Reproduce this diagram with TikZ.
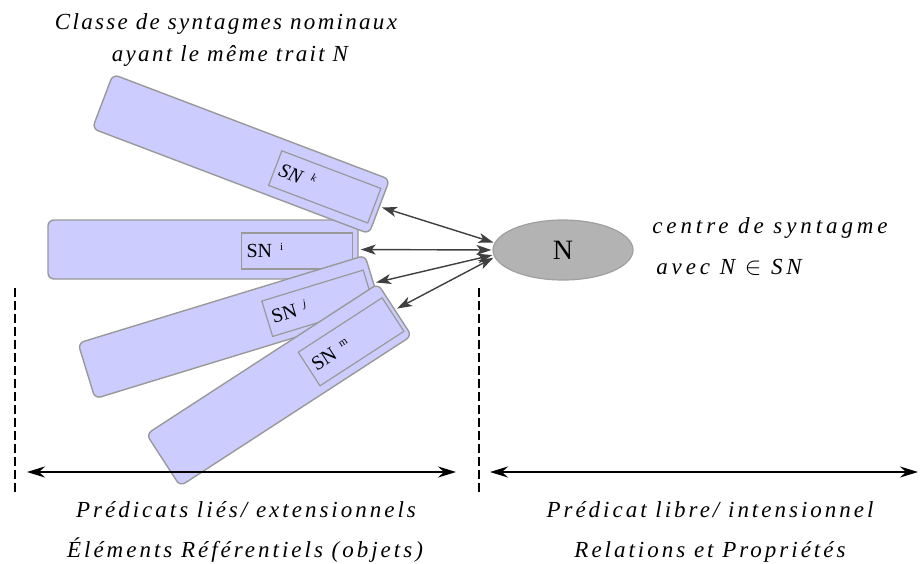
\documentclass[tikz,border=0pt]{standalone}
\usepackage{fontspec}
\setmainfont{Liberation Serif}
\usetikzlibrary{arrows.meta,shapes.geometric}
\definecolor{boxfill}{HTML}{CCCCFF}
\definecolor{boxline}{HTML}{999999}
\definecolor{ellfill}{HTML}{B3B3B3}
\definecolor{ellline}{HTML}{A0A0A0}
\definecolor{arrcol}{HTML}{3F3F3F}
\newfontfamily\spacedtop[LetterSpace=10]{Liberation Serif}
\newfontfamily\spacedbot[LetterSpace=13]{Liberation Serif}
\newfontfamily\spacedright[LetterSpace=17]{Liberation Serif}
\tikzset{
  outerbox/.style={draw=boxline, fill=boxfill, line width=1.4pt, rounded corners=6pt,
    minimum height=59pt, inner sep=0pt, transform shape},
  innerbox/.style={draw=boxline, line width=1.2pt, minimum width=106pt, minimum height=37pt,
    inner xsep=5pt, inner ysep=0pt, text width=96pt, align=left, text height=13pt, text depth=0pt,
    font=\fontsize{20}{20}\selectfont, transform shape},
  link/.style={draw=arrcol, line width=1.4pt, >={Stealth[length=15pt,width=10pt,inset=4pt]}, <->,
    shorten <=1pt, shorten >=2pt},
  axisline/.style={draw=black, line width=2pt, >={Stealth[length=18pt,width=11pt,inset=6pt]}, <->},
  divider/.style={draw=black, line width=1.8pt, dash pattern=on 9pt off 4pt},
  lbltext/.style={font=\itshape\fontsize{23}{23}\selectfont, inner sep=0pt, anchor=base},
}
\newcommand{\supl}[1]{\hspace{8pt}\raisebox{7pt}{\fontsize{11}{11}\selectfont #1}}
\begin{document}
\begin{tikzpicture}[x=1pt,y=-1pt]
\useasboundingbox (0,0) rectangle (920,563);

% box i
\begin{scope}[shift={(203,249.5)}]
  \node[outerbox, minimum width=310pt] (bi) at (0,0) {};
  \node[innerbox, minimum width=111pt, text width=101pt, minimum height=36pt] (ii) at (94,1.5) {SN\supl{i}};
\end{scope}
% box k
\begin{scope}[shift={(241,154)}, rotate=-20.8]
  \node[outerbox, minimum width=296pt, minimum height=58pt] (bk) at (0,0) {};
  \node[innerbox] (ik) at (90,1) {\textit{SN}\supl{\textit{k}}};
\end{scope}
% box j
\begin{scope}[shift={(230,327)}, rotate=17]
  \node[outerbox, minimum width=300pt, minimum height=58pt] (bj) at (0,0) {};
  \node[innerbox] (ij) at (91,3) {SN\supl{\textit{j}}};
\end{scope}
% box m
\begin{scope}[shift={(279,385)}, rotate=33]
  \node[outerbox, minimum width=276pt, minimum height=62pt] (bm) at (0,0) {};
  \node[innerbox, minimum width=100pt, text width=90pt, minimum height=40pt] (im) at (84,3) {SN\supl{m}};
\end{scope}

% centre N
\node[ellipse, draw=ellline, fill=ellfill, line width=1.2pt, minimum width=140pt, minimum height=60pt,
  inner sep=0pt, font=\fontsize{28}{28}\selectfont] (ell) at (563,250) {N};

\draw[link] (ell.174) -- (bk.east);
\draw[link] (ell.180) -- (bi.east);
\draw[link] (ell.184) -- (bj.east);
\draw[link] (ell.186) -- (bm.east);

% dividers and axes
\coordinate (d1a) at (15,288);
\coordinate (d1b) at (15,492);
\coordinate (d2a) at (479,288);
\coordinate (d2b) at (479,492);
\draw[divider] (d1a) -- (d1b);
\draw[divider] (d2a) -- (d2b);
\coordinate (a1l) at (27,472);
\coordinate (a1r) at (456,472);
\coordinate (a2l) at (490,472);
\coordinate (a2r) at (918,472);
\draw[axisline] (a1l) -- (a1r);
\draw[axisline] (a2l) -- (a2r);

% texts
\node[lbltext] (t1) at (226,29) {\spacedtop Classe de syntagmes nominaux};
\node[lbltext] (t2) at (230,61) {\spacedtop ayant le même trait N};
\node[lbltext] (t3) at (770,233) {\spacedright centre de syntagme};
\node[lbltext] (t4) at (729,274) {\spacedright avec N\ $\in$\ SN};
\node[lbltext] (t5) at (246,517) {\spacedbot Prédicats liés/ extensionnels};
\node[lbltext] (t6) at (245,557) {\spacedbot Éléments Référentiels (objets)};
\node[lbltext] (t7) at (710,517) {\spacedbot Prédicat libre/ intensionnel};
\node[lbltext] (t8) at (710,557) {\spacedbot Relations et Propriétés};
\end{tikzpicture}
\end{document}
